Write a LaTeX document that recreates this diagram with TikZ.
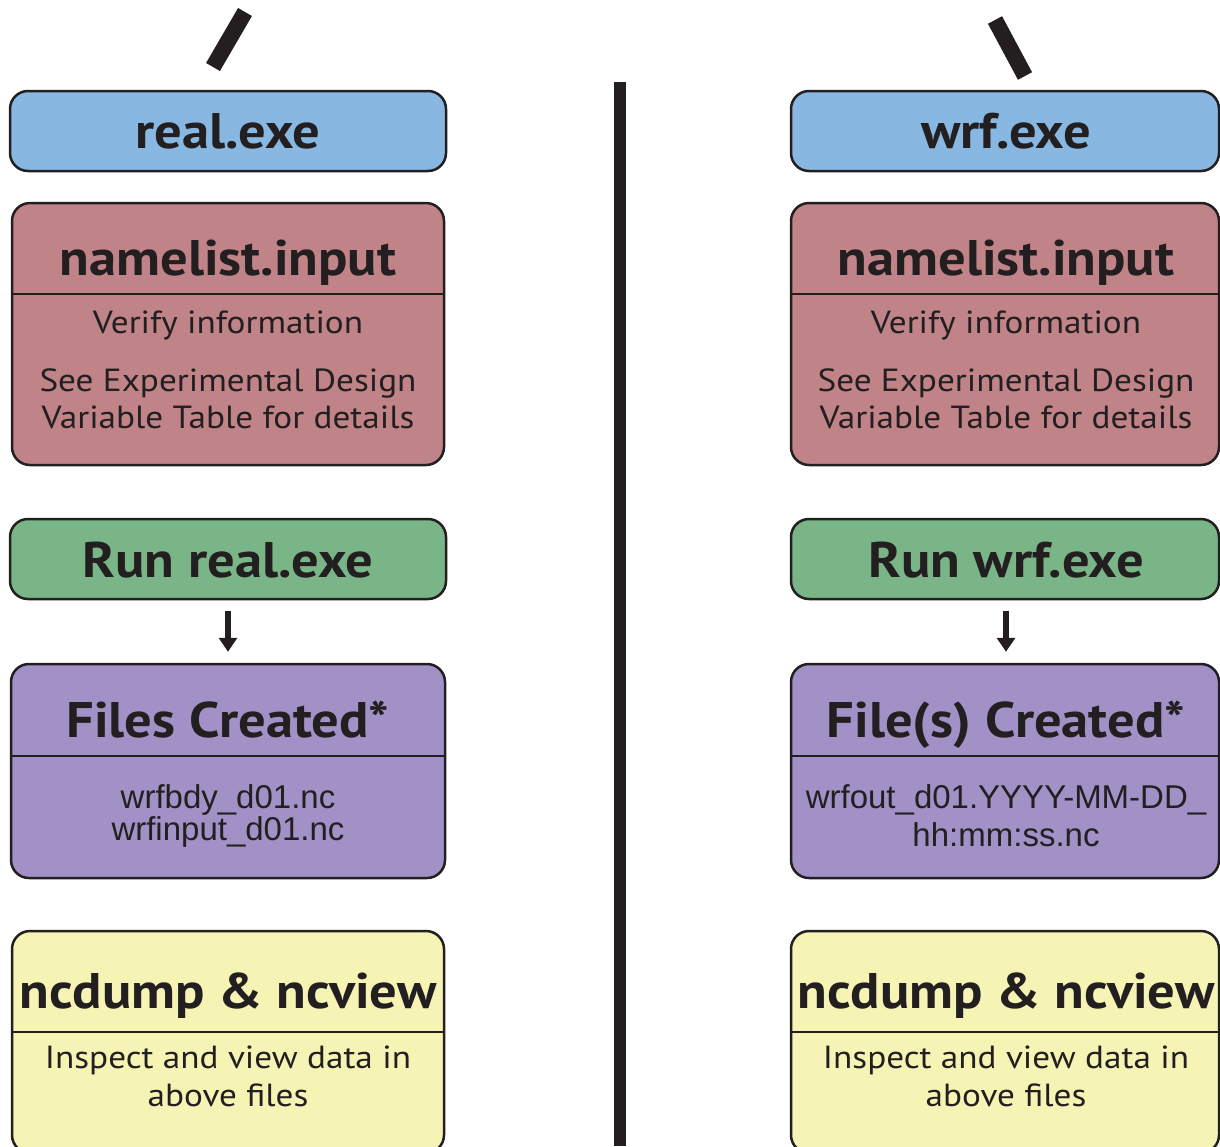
\documentclass[tikz,border=0pt]{standalone}
\usepackage{fontspec}
\setmainfont{PT Sans}
\newfontfamily\headfont[FakeStretch=1.09]{PT Sans}
\newfontfamily\bodyfont[FakeStretch=1.1]{PT Sans}
\newfontfamily\filefont{Liberation Sans}
\usetikzlibrary{arrows.meta}
\definecolor{ink}{HTML}{231F20}
\definecolor{cblue}{HTML}{88B8E1}
\definecolor{cred}{HTML}{C08387}
\definecolor{cgreen}{HTML}{79B586}
\definecolor{cpurple}{HTML}{A291C6}
\definecolor{cyellow}{HTML}{F6F4B4}
\begin{document}
\begin{tikzpicture}[x=1pt,y=-1pt,
  box/.style={draw=ink, line width=2.5pt, rounded corners=18pt, inner sep=0pt, rectangle},
  head/.style={font=\headfont\fontsize{50}{56}\selectfont\bfseries, text=ink, anchor=base, inner sep=0pt},
  body/.style={font=\bodyfont\fontsize{32}{36}\selectfont, text=ink, anchor=base, inner sep=0pt},
  fname/.style={font=\filefont\fontsize{33}{36}\selectfont, text=ink, anchor=base, inner sep=0pt},
  divider/.style={draw=ink, line width=2.5pt},
  flow/.style={draw=ink, line width=6pt, -{Triangle[width=18pt,length=14pt]}, shorten <=11pt, shorten >=11pt},
  slash/.style={draw=ink, line width=16pt}]
\useasboundingbox (0,0) rectangle (1220,1146);
\clip (0,0) rectangle (1220,1146);
% vertical separator
\fill[ink] (614,82) rectangle (626,1146);
% slashes
\coordinate (ls1) at (213,67); \coordinate (ls2) at (245,12);
\draw[slash] (ls1) -- (ls2);
\coordinate (rs1) at (995,20); \coordinate (rs2) at (1025,76);
\draw[slash] (rs1) -- (rs2);

% ---------- left column ----------
\node[box, fill=cblue, minimum width=436pt, minimum height=80pt] (lexe) at (228,131) {};
\node[head] (lexet) at (228,148) {real.exe};

\node[box, fill=cred, minimum width=432pt, minimum height=262pt] (lnl) at (228,334) {};
\draw[divider] (lnl.west |- 0,294) -- (lnl.east |- 0,294);
\node[head] (lnlt) at (228,275) {namelist.input};
\node[body] (lnl1) at (228,333) {Verify information};
\node[body] (lnl2) at (228,391) {See Experimental Design};
\node[body] (lnl3) at (228,428) {Variable Table for details};

\node[box, fill=cgreen, minimum width=436pt, minimum height=80pt] (lrun) at (228,559) {};
\node[head] (lrunt) at (228,577) {Run real.exe};

\node[box, fill=cpurple, minimum width=434pt, minimum height=214pt] (lfc) at (228,771) {};
\draw[divider] (lfc.west |- 0,756) -- (lfc.east |- 0,756);
\node[head] (lfct) at (228,737) {Files Created*};
\node[fname] (lfc1) at (228,808) {wrfbdy\_d01.nc};
\node[fname] (lfc2) at (228,840) {wrfinput\_d01.nc};
\draw[flow] (lrun) -- (lfc);

\node[box, fill=cyellow, minimum width=432pt, minimum height=222pt] (lnc) at (228,1042) {};
\draw[divider] (lnc.west |- 0,1032) -- (lnc.east |- 0,1032);
\node[head] (lnct) at (228,1008) {ncdump \& ncview};
\node[body] (lnc1) at (228,1068) {Inspect and view data in};
\node[body] (lnc2) at (228,1106) {above files};

% ---------- right column ----------
\node[box, fill=cblue, minimum width=428pt, minimum height=80pt] (rexe) at (1005,131) {};
\node[head] (rexet) at (1006,148) {wrf.exe};

\node[box, fill=cred, minimum width=428pt, minimum height=262pt] (rnl) at (1005,334) {};
\draw[divider] (rnl.west |- 0,294) -- (rnl.east |- 0,294);
\node[head] (rnlt) at (1006,275) {namelist.input};
\node[body] (rnl1) at (1006,333) {Verify information};
\node[body] (rnl2) at (1006,391) {See Experimental Design};
\node[body] (rnl3) at (1006,428) {Variable Table for details};

\node[box, fill=cgreen, minimum width=428pt, minimum height=80pt] (rrun) at (1005,559) {};
\node[head] (rrunt) at (1006,577) {Run wrf.exe};

\node[box, fill=cpurple, minimum width=428pt, minimum height=214pt] (rfc) at (1005,771) {};
\draw[divider] (rfc.west |- 0,756) -- (rfc.east |- 0,756);
\node[head] (rfct) at (1006,737) {File(s) Created*};
\node[fname] (rfc1) at (1006,808) {wrfout\_d01.YYYY-MM-DD\_};
\node[fname] (rfc2) at (1006,846) {hh:mm:ss.nc};
\draw[flow] (rrun.south -| 1006,0) -- (rfc.north -| 1006,0);

\node[box, fill=cyellow, minimum width=428pt, minimum height=222pt] (rnc) at (1005,1042) {};
\draw[divider] (rnc.west |- 0,1032) -- (rnc.east |- 0,1032);
\node[head] (rnct) at (1006,1008) {ncdump \& ncview};
\node[body] (rnc1) at (1006,1068) {Inspect and view data in};
\node[body] (rnc2) at (1006,1106) {above files};
\end{tikzpicture}
\end{document}
